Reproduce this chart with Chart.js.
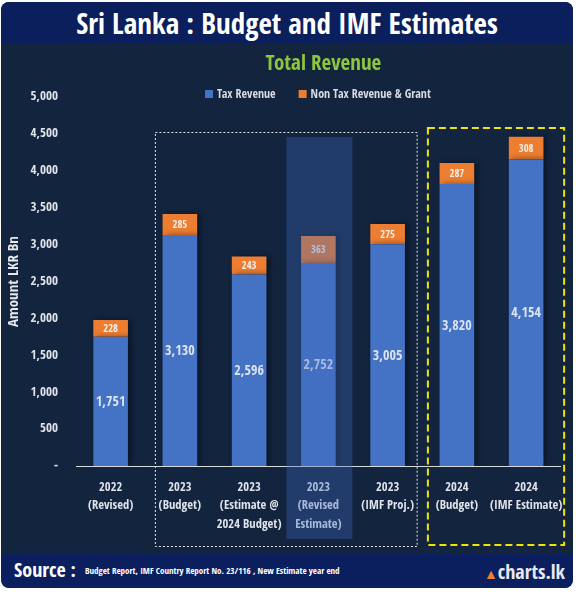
<!DOCTYPE html>
<html>
<head>
<meta charset="utf-8">
<script src="https://cdn.jsdelivr.net/npm/chart.js@4.4.0/dist/chart.umd.min.js"></script>
<style>
html, body { margin: 0; padding: 0; background: #fff; width: 576px; height: 592px; overflow: hidden; }
#card { position: absolute; left: 1px; top: 2px; width: 572px; height: 586px; background: #12243e; border-radius: 8px; overflow: hidden; }
#head { position: absolute; left: 0; top: 0; width: 572px; height: 42px; background: #0a1f5c; color: #fff;
        font: bold 29px "Open Sans Condensed", sans-serif; text-align: center; line-height: 42px; }
#foot { position: absolute; left: 0; bottom: 0; width: 572px; height: 34px; background: #0b1f5e; color: #fff;
        font-family: "Open Sans Condensed", sans-serif; border-radius: 0 0 8px 8px; }
#foot .src { position: absolute; left: 13px; top: 2px; font-size: 20px; font-weight: bold; }
#foot .txt { position: absolute; left: 84px; top: 10px; font-size: 9px; font-weight: 600; }
#foot .logo { position: absolute; right: 8px; top: 4px; font-size: 20px; font-weight: 600; color: #e8e8f0; }
#foot .logo i { color: #f08030; font-style: normal; font-size: 14px; }
#wrap { position: absolute; left: 0; top: 0; width: 576px; height: 592px; }
</style>
</head>
<body>
<div id="card">
  <div id="head">Sri Lanka : Budget and IMF Estimates</div>
  <div id="foot">
    <span class="src">Source :</span>
    <span class="txt">Budget Report, IMF Country Report No. 23/116 , New Estimate year end</span>
    <span class="logo"><i>&#9650;</i>charts.lk</span>
  </div>
</div>
<div id="wrap"><canvas id="revenueChart" width="576" height="592"></canvas></div>

<script>
// chart data
const categories = [
    ['2022', '(Revised)'],
    ['2023', '(Budget)'],
    ['2023', '(Estimate @', '2024 Budget)'],
    ['2023', '(Revised', 'Estimate)'],
    ['2023', '(IMF Proj.)'],
    ['2024', '(Budget)'],
    ['2024', '(IMF Estimate)']
];
const taxRevenue = [1751, 3130, 2596, 2752, 3005, 3820, 4154];
const nonTaxRevenue = [228, 285, 243, 363, 275, 287, 308];
const seriesNames = ['Tax Revenue', 'Non Tax Revenue & Grant'];
const chartTitle = 'Total Revenue';
const axisTitle = 'Amount LKR Bn';

const FONT = '"Open Sans Condensed", "Open Sans", sans-serif';
const BLUE = '#4472c4';
const ORANGE = '#ed7d31';

function fmt(v) {
    return v.toLocaleString('en-US');
}

// shadows behind the bars
const barShadow = {
    id: 'barShadow',
    beforeDatasetDraw(chart) {
        const ctx = chart.ctx;
        ctx.save();
        ctx.shadowColor = 'rgba(0, 0, 0, 0.45)';
        ctx.shadowBlur = 6;
        ctx.shadowOffsetX = 3;
        ctx.shadowOffsetY = 0;
    },
    afterDatasetDraw(chart) {
        chart.ctx.restore();
    }
};

// value labels inside the bar segments
const valueLabels = {
    id: 'valueLabels',
    afterDatasetsDraw(chart) {
        const ctx = chart.ctx;
        ctx.save();
        ctx.textAlign = 'center';
        ctx.textBaseline = 'middle';
        chart.data.datasets.forEach((ds, i) => {
            const meta = chart.getDatasetMeta(i);
            ctx.font = (i === 0 ? '600 14px ' : '600 10.5px ') + FONT;
            ctx.fillStyle = i === 0 ? '#dde3ef' : '#f2efec';
            meta.data.forEach((bar, j) => {
                ctx.fillText(fmt(ds.data[j]), bar.x, (bar.y + bar.base) / 2 + 1);
            });
        });
        ctx.restore();
    }
};

// title, legend, highlight and group boxes
const decorations = {
    id: 'decorations',
    afterDraw(chart) {
        const ctx = chart.ctx;
        const area = chart.chartArea;
        const xs = chart.scales.x;
        const cx = (area.left + area.right) / 2;
        ctx.save();

        // title
        ctx.font = 'bold 21px ' + FONT;
        ctx.fillStyle = '#8cc63f';
        ctx.textAlign = 'center';
        ctx.textBaseline = 'middle';
        ctx.fillText(chartTitle, cx + 5, 65);

        // legend
        ctx.font = '600 12px ' + FONT;
        ctx.textAlign = 'left';
        const items = chart.data.datasets.map(ds => ({ text: ds.label, color: ds.backgroundColor }));
        const widths = items.map(it => 8 + 5 + ctx.measureText(it.text).width);
        const gap = 22;
        let x = cx - (widths.reduce((a, b) => a + b, 0) + gap * (items.length - 1)) / 2;
        items.forEach((it, k) => {
            ctx.fillStyle = it.color;
            ctx.fillRect(x, 90, 8, 8);
            ctx.fillStyle = '#d9dce2';
            ctx.fillText(it.text, x + 12, 94.5);
            x += widths[k] + gap;
        });

        // highlighted category (2023 Revised Estimate)
        const hx = xs.getPixelForValue(3);
        ctx.fillStyle = 'rgba(63, 107, 188, 0.35)';
        ctx.fillRect(hx - 32, area.top + 40, 66, 402);

        // white dotted box around the 2023 group
        ctx.setLineDash([2, 2]);
        ctx.strokeStyle = '#e6e6e6';
        ctx.lineWidth = 1;
        ctx.strokeRect(xs.getPixelForValue(1) - 24.5, area.top + 35.5, xs.getPixelForValue(4) - xs.getPixelForValue(1) + 54, 414);

        // yellow dashed box around the 2024 group
        ctx.setLineDash([7, 4]);
        ctx.strokeStyle = '#f0e400';
        ctx.lineWidth = 2;
        ctx.strokeRect(xs.getPixelForValue(5) - 29, area.top + 31, xs.getPixelForValue(6) - xs.getPixelForValue(5) + 67, 417);

        ctx.restore();
    }
};

const chart = new Chart(document.getElementById('revenueChart'), {
    type: 'bar',
    data: {
        labels: categories,
        datasets: [
            { label: seriesNames[0], data: taxRevenue, backgroundColor: BLUE, barPercentage: 0.5, categoryPercentage: 1 },
            { label: seriesNames[1], data: nonTaxRevenue, backgroundColor: ORANGE, barPercentage: 0.5, categoryPercentage: 1 }
        ]
    },
    options: {
        responsive: false,
        animation: false,
        layout: { padding: { top: 97, left: 0, right: 10, bottom: 36 } },
        plugins: {
            legend: { display: false },
            tooltip: { enabled: false }
        },
        scales: {
            x: {
                stacked: true,
                grid: { display: false, drawTicks: false },
                border: { display: true, color: '#d9d9d9', width: 1 },
                ticks: {
                    color: '#dfe3ea',
                    font: { family: FONT, size: 12.5, weight: 'bold', lineHeight: 1.45 },
                    padding: 13,
                    maxRotation: 0,
                    autoSkip: false
                },
                afterFit(s) { s.height = 90; }
            },
            y: {
                stacked: true,
                min: 0,
                max: 5000,
                grid: { display: false, drawTicks: false },
                border: { display: false },
                ticks: {
                    stepSize: 500,
                    color: '#dfe3ea',
                    font: { family: FONT, size: 13, weight: '600' },
                    padding: 18,
                    callback: v => v === 0 ? '-' : fmt(v)
                },
                title: {
                    display: true,
                    text: axisTitle,
                    color: '#e6e8ec',
                    font: { family: FONT, size: 15, weight: '600' },
                    padding: { top: 5, bottom: 0 }
                },
                afterFit(s) { s.width = 76; }
            }
        }
    },
    plugins: [barShadow, valueLabels, decorations]
});
</script>
</body>
</html>
